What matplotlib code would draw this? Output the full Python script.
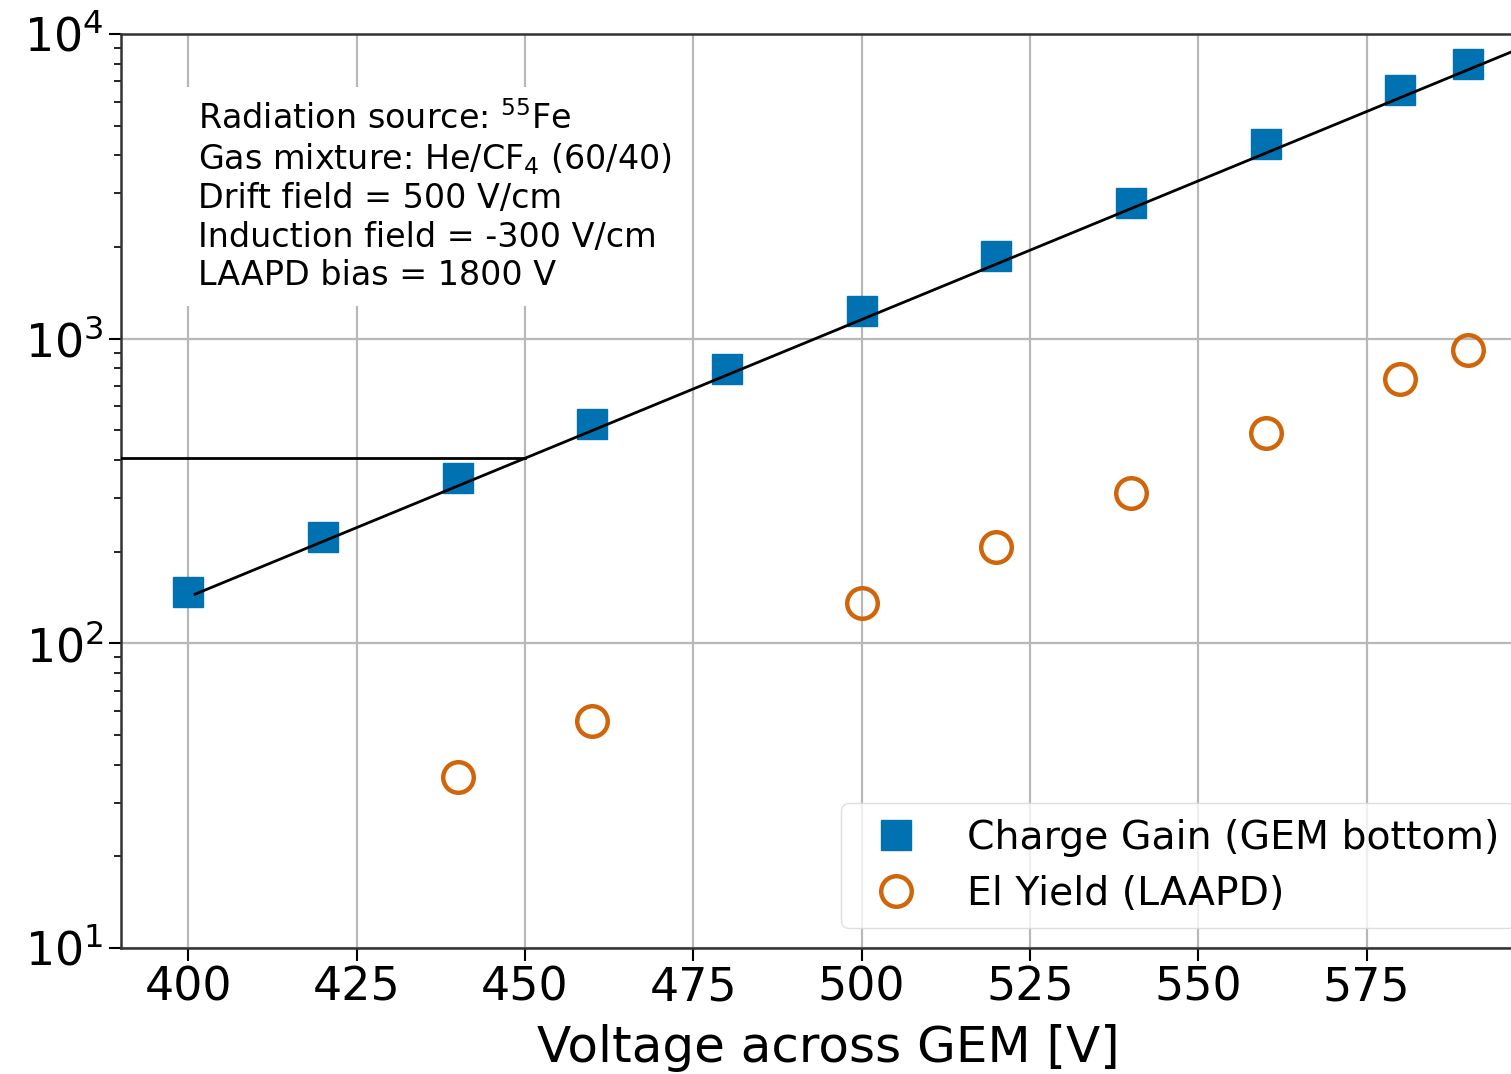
import matplotlib
matplotlib.use("Agg")
import matplotlib.pyplot as plt

# Data
gain_v = [400, 420, 440, 460, 480, 500, 520, 540, 560, 580, 590]
gain_y = [147, 223, 349, 525, 796, 1233, 1868, 2788, 4355, 6548, 7970]

el_v = [440, 460, 500, 520, 540, 560, 580, 590]
el_y = [36.4, 55.6, 135.7, 207, 312, 491, 738, 918]

fit_v = [401, 600]
fit_y = [145, 9400]

hline_v = [390, 450]
hline_y = [405, 405]

xticks = [400, 425, 450, 475, 500, 525, 550, 575]

info_text = ("Radiation source: $^{55}$Fe\n"
             "Gas mixture: He/CF$_4$ (60/40)\n"
             "Drift field = 500 V/cm\n"
             "Induction field = -300 V/cm\n"
             "LAAPD bias = 1800 V")

plt.rcParams['font.family'] = ['DejaVu Sans']
plt.rcParams['mathtext.fontset'] = 'dejavusans'

fig = plt.figure(figsize=(15.11, 10.74), dpi=100)
ax = fig.add_axes([121/1511, 1-948/1074, (1535-121)/1511, (948-34)/1074])

ax.set_yscale('log')
ax.set_xlim(390, 600)
ax.set_ylim(10, 1e4)

ax.grid(True, which='major', color='#b8b8b8', linewidth=1.6, zorder=0)
ax.set_axisbelow(True)

ax.plot(gain_v, gain_y, linestyle='none', marker='s', markersize=22,
        color='#0072B2', label='Charge Gain (GEM bottom)', zorder=3)
ax.plot(el_v, el_y, linestyle='none', marker='o', markersize=22,
        markerfacecolor='none', markeredgecolor='#D0650A', markeredgewidth=3.2,
        label='El Yield (LAAPD)', zorder=3)
ax.plot(fit_v, fit_y, color='black', linewidth=2, zorder=4)
ax.plot(hline_v, hline_y, color='black', linewidth=2, zorder=4)

ax.set_xticks(xticks)
ax.tick_params(axis='both', which='major', labelsize=33, length=9, width=1.5, direction='out')
ax.tick_params(axis='y', which='minor', length=5, width=1.2)
ax.set_xlabel('Voltage across GEM [V]', fontsize=36, labelpad=10)

for s in ['left', 'bottom', 'top', 'right']:
    ax.spines[s].set_linewidth(1.8)
    ax.spines[s].set_color('#333333')

ax.text((198-121)/1414, (948-101)/914, info_text, transform=ax.transAxes,
        fontsize=24, va='top', ha='left', linespacing=1.2,
        bbox=dict(facecolor='white', edgecolor='none', pad=10), zorder=5)

leg = ax.legend(loc='lower right', fontsize=28.4, frameon=True, framealpha=0.8,
                borderpad=0.4, handletextpad=0.8, labelspacing=0.45)
leg.get_frame().set_edgecolor('#d8d8d8')

fig.savefig('out.png', dpi=100)
